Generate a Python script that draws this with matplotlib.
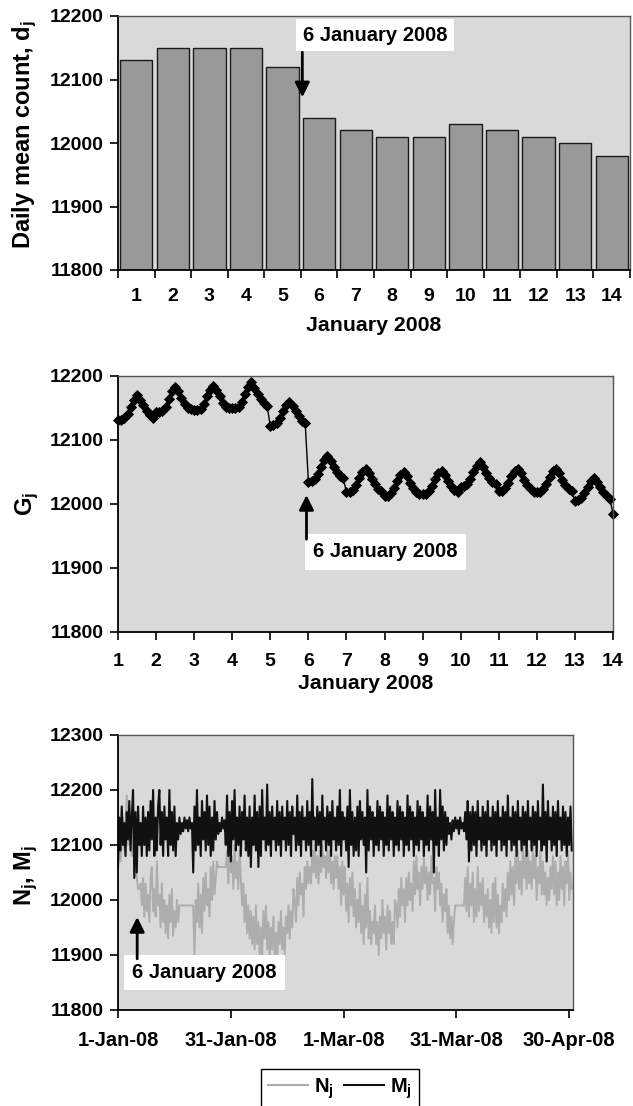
import numpy as np
import pandas as pd
import matplotlib
matplotlib.use('Agg')
import matplotlib.pyplot as plt
import matplotlib.dates as mdates
from matplotlib.lines import Line2D

plt.rcParams['font.family'] = ['Liberation Sans', 'DejaVu Sans']
plt.rcParams['font.weight'] = 'bold'
plt.rcParams['axes.labelweight'] = 'bold'
plt.rcParams['mathtext.fontset'] = 'custom'
plt.rcParams['mathtext.rm'] = 'Liberation Sans:bold'
plt.rcParams['mathtext.it'] = 'Liberation Sans:bold'
plt.rcParams['mathtext.bf'] = 'Liberation Sans:bold'

# ---------------- data ----------------
days = list(range(1, 15))
daily_mean = [12130, 12150, 12150, 12150, 12120, 12040, 12020,
              12010, 12010, 12030, 12020, 12010, 12000, 11980]

g_hours = [0, 2, 4, 6, 8, 10, 12, 14, 16, 18, 20, 22]
g_by_day = [
    [12132, 12132, 12134, 12140, 12152, 12163, 12170, 12163, 12155, 12146, 12139, 12135],
    [12143, 12144, 12146, 12152, 12164, 12176, 12183, 12176, 12166, 12156, 12150, 12148],
    [12147, 12147, 12149, 12156, 12168, 12178, 12185, 12178, 12168, 12158, 12152, 12150],
    [12150, 12150, 12152, 12160, 12172, 12183, 12190, 12182, 12172, 12164, 12158, 12153],
    [12122, 12123, 12127, 12135, 12146, 12155, 12160, 12153, 12145, 12137, 12130, 12126],
    [12035, 12036, 12039, 12047, 12058, 12068, 12075, 12067, 12058, 12050, 12043, 12040],
    [12018, 12019, 12022, 12030, 12041, 12050, 12055, 12048, 12039, 12031, 12024, 12020],
    [12012, 12013, 12017, 12025, 12036, 12045, 12050, 12043, 12033, 12025, 12019, 12015],
    [12015, 12016, 12020, 12028, 12039, 12048, 12052, 12045, 12036, 12028, 12022, 12018],
    [12027, 12028, 12031, 12039, 12050, 12060, 12065, 12058, 12048, 12040, 12034, 12031],
    [12020, 12021, 12025, 12033, 12044, 12051, 12055, 12048, 12038, 12030, 12024, 12019],
    [12018, 12019, 12023, 12031, 12042, 12051, 12055, 12048, 12038, 12030, 12024, 12020],
    [12005, 12006, 12010, 12017, 12027, 12036, 12040, 12034, 12026, 12018, 12012, 12008],
]
g_last = 11985

# 8-hourly samples, 1 Jan 2008 onwards (3 per day)
m_values = [
    12060, 12150, 12090, 12170, 12100, 12140, 12080, 12160, 12110, 12180, 12090, 12150, 12200, 12040, 12160,
    12050, 12170, 12100, 12140, 12080, 12170, 12100, 12150, 12080, 12160, 12090, 12180, 12110, 12200, 12080,
    12150, 12090, 12170, 12200, 12100, 12160, 12080, 12170, 12110, 12150, 12080, 12200, 12100, 12160, 12090,
    12170, 12080, 12140, 12110, 12150, 12120, 12140, 12125, 12150, 12130, 12145, 12125, 12150, 12130, 12140,
    12050, 12170, 12090, 12200, 12100, 12150, 12080, 12180, 12110, 12160, 12090, 12190, 12100, 12170, 12080,
    12150, 12090, 12180, 12110, 12160, 12120, 12140, 12125, 12150, 12130, 12145, 12100, 12190, 12080, 12160,
    12070, 12180, 12110, 12200, 12090, 12150, 12100, 12170, 12080, 12160, 12110, 12190, 12090, 12150, 12080,
    12170, 12060, 12150, 12100, 12190, 12090, 12160, 12060, 12170, 12080, 12200, 12110, 12150, 12090, 12210,
    12100, 12160, 12080, 12170, 12110, 12150, 12090, 12180, 12100, 12160, 12080, 12170, 12110, 12150, 12090,
    12180, 12100, 12160, 12080, 12170, 12120, 12150, 12090, 12190, 12100, 12160, 12080, 12170, 12110, 12150,
    12090, 12180, 12100, 12160, 12080, 12220, 12110, 12150, 12090, 12170, 12100, 12160, 12080, 12190, 12110,
    12150, 12090, 12170, 12100, 12160, 12080, 12180, 12110, 12150, 12090, 12170, 12100, 12200, 12080, 12160,
    12110, 12150, 12090, 12170, 12060, 12200, 12100, 12160, 12080, 12150, 12090, 12170, 12080, 12180, 12110,
    12160, 12100, 12150, 12050, 12200, 12090, 12170, 12110, 12160, 12080, 12150, 12100, 12180, 12090, 12170,
    12110, 12160, 12080, 12150, 12100, 12190, 12090, 12170, 12110, 12160, 12080, 12150, 12100, 12180, 12090,
    12170, 12110, 12160, 12080, 12150, 12100, 12190, 12090, 12170, 12110, 12160, 12080, 12150, 12100, 12180,
    12090, 12170, 12110, 12160, 12080, 12150, 12100, 12190, 12090, 12170, 12110, 12160, 12050, 12200, 12100,
    12150, 12080, 12200, 12110, 12170, 12090, 12160, 12100, 12150, 12120, 12140, 12110, 12145, 12125, 12150,
    12130, 12145, 12120, 12150, 12130, 12140, 12125, 12160, 12110, 12180, 12070, 12160, 12090, 12170, 12100,
    12160, 12080, 12180, 12110, 12150, 12090, 12170, 12100, 12160, 12080, 12180, 12110, 12150, 12090, 12170,
    12100, 12160, 12080, 12180, 12110, 12150, 12090, 12170, 12100, 12160, 12080, 12190, 12110, 12150, 12090,
    12170, 12100, 12160, 12080, 12180, 12110, 12150, 12090, 12170, 12100, 12160, 12080, 12180, 12110, 12150,
    12090, 12170, 12100, 12160, 12080, 12180, 12110, 12150, 12090, 12210, 12100, 12160, 12070, 12180, 12110,
    12150, 12090, 12170, 12100, 12160, 12080, 12180, 12110, 12150, 12090, 12170, 12100, 12160, 12080, 12150,
    12100, 12170, 12090,
]
n_values = [
    12080, 12120, 12070, 12110, 12150, 12090, 12130, 12190, 12100, 12120, 12160, 12080, 12090, 12140, 12060,
    12040, 12020, 12020, 12030, 11990, 12040, 11970, 12030, 11980, 12010, 11960, 12040, 12060, 11980, 12020,
    11970, 12070, 11990, 12010, 11950, 12030, 11960, 12000, 11940, 11990, 11930, 12010, 11960, 12020, 11935,
    11980, 11950, 12000, 11960, 11990, 11990, 11990, 11990, 11990, 11990, 11990, 11990, 11990, 11990, 11990,
    11990, 11900, 12000, 11960, 12030, 11950, 12010, 11940, 12040, 11980, 12050, 11990, 12020, 11970, 12060,
    12000, 12070, 12010, 12040, 12070, 12060, 12060, 12060, 12060, 12060, 12060, 12060, 12090, 12030, 12100,
    12050, 12080, 12020, 12100, 12040, 12070, 12020, 12090, 12040, 11990, 12030, 11960, 12010, 11940, 11990,
    11930, 11980, 11920, 11970, 11910, 11990, 11920, 11960, 11900, 11950, 11900, 11980, 11930, 11990, 11910,
    11960, 11890, 11950, 11910, 11970, 11900, 11940, 11890, 11960, 11920, 11980, 11910, 11950, 11900, 11970,
    11940, 11990, 11930, 11980, 11950, 12020, 12000, 11960, 12040, 11990, 12050, 12010, 12030, 11970, 12060,
    12020, 12070, 12030, 12060, 12030, 12090, 12050, 12100, 12040, 12080, 12030, 12090, 12050, 12100, 12060,
    12080, 12040, 12090, 12050, 12090, 12030, 12070, 12020, 12080, 12040, 12080, 12020, 12060, 11990, 12070,
    12010, 12060, 11980, 12030, 11960, 12040, 11990, 12050, 11970, 12020, 11950, 12000, 11960, 12030, 11940,
    11990, 11920, 12010, 11950, 12040, 11930, 11980, 11920, 11960, 11940, 11990, 11920, 11960, 11900, 11970,
    11930, 12000, 11940, 11970, 11910, 11990, 11940, 11980, 11920, 11960, 11920, 12000, 11990, 11950, 12020,
    11970, 12040, 11990, 12020, 11960, 12040, 11990, 12050, 12000, 12030, 11980, 12070, 12010, 12080, 12020,
    12050, 11990, 12060, 12020, 12080, 12030, 12060, 12000, 12050, 12010, 12080, 12030, 12040, 11980, 12060,
    12020, 12050, 11990, 12030, 11960, 12010, 11980, 12020, 11940, 11990, 11930, 11970, 11920, 11960, 11990,
    11990, 11990, 11990, 11990, 11990, 11990, 11990, 12040, 11980, 12060, 11970, 12030, 11990, 12050, 11960,
    12020, 11970, 12060, 11980, 12030, 11990, 12040, 11960, 12010, 11970, 12020, 11950, 12000, 11940, 12030,
    11960, 12040, 11950, 12010, 11940, 11990, 11960, 12030, 11980, 12020, 11970, 12050, 12000, 12070, 12010,
    12060, 11990, 12080, 12030, 12090, 12020, 12070, 12010, 12100, 12040, 12080, 12020, 12090, 12030, 12070,
    12020, 12100, 12040, 12080, 12000, 12060, 12030, 12090, 12010, 12070, 12010, 12050, 11990, 12040, 12000,
    12060, 12020, 12080, 12010, 12070, 11990, 12050, 12000, 12080, 12020, 12060, 11990, 12070, 12030, 12090,
    12000, 12050, 12020,
]
date_ticks = ['2008-01-01', '2008-01-31', '2008-03-01', '2008-03-31', '2008-04-30']
date_tick_labels = ['1-Jan-08', '31-Jan-08', '1-Mar-08', '31-Mar-08', '30-Apr-08']

# ---------------- style ----------------
BG = '#d9d9d9'
TICK_FS = 14
LAB_FS = 15.3
YLAB_FS = 17
ANN_FS = 14.5

W, H = 633, 1106
fig = plt.figure(figsize=(W / 100, H / 100), dpi=100)


def px_axes(l, t, r, b):
    return fig.add_axes([l / W, 1 - b / H, (r - l) / W, (b - t) / H])


def style(ax):
    ax.set_facecolor(BG)
    for s in ['left', 'bottom']:
        ax.spines[s].set_color('black')
        ax.spines[s].set_linewidth(1.3)
    for s in ['top', 'right']:
        ax.spines[s].set_color('#555555')
        ax.spines[s].set_linewidth(1.0)
    ax.tick_params(axis='both', which='both', direction='out', width=1.2,
                   labelsize=TICK_FS, color='black')
    ax.tick_params(axis='y', length=6, pad=4)
    ax.tick_params(axis='x', length=6, pad=9)


# ---------------- top panel ----------------
ax1 = px_axes(118, 16, 630, 270)
style(ax1)
ax1.bar(days, daily_mean, width=0.88, color='#999999', edgecolor='#1a1a1a',
        linewidth=1.0, bottom=0)
ax1.set_xlim(0.5, 14.5)
ax1.set_ylim(11800, 12200)
ax1.set_yticks(np.arange(11800, 12201, 100))
ax1.set_xticks(days)
ax1.set_xticks(np.arange(0.5, 15, 1), minor=True)
ax1.tick_params(axis='x', which='major', length=0, pad=13)
ax1.tick_params(axis='x', which='minor', length=6, width=1.2)
ax1.set_xlabel('January 2008', fontsize=LAB_FS, labelpad=8)
ax1.set_ylabel('Daily mean count, d$_j$', fontsize=YLAB_FS)
ax1.yaxis.set_label_coords(-0.155, 0.535)
ax1.text(5.55, 12170, '6 January 2008', fontsize=ANN_FS, fontweight='bold',
         va='center', ha='left',
         bbox=dict(facecolor='white', edgecolor='none', pad=5))
ax1.annotate('', xy=(5.54, 12072), xytext=(5.54, 12143),
             arrowprops=dict(arrowstyle='-|>', color='black', lw=2,
                             mutation_scale=22, shrinkA=0, shrinkB=0))

# ---------------- middle panel ----------------
ax2 = px_axes(118, 376, 613, 632)
style(ax2)
g_x, g_y = [], []
for d, vals in zip(days[:-1], g_by_day):
    for h, v in zip(g_hours, vals):
        g_x.append(d + h / 24)
        g_y.append(v)
g_x.append(days[-1])
g_y.append(g_last)
ax2.plot(g_x, g_y, color='black', lw=1.0, marker='D', markersize=4.6,
         markeredgewidth=0.6, clip_on=False)
ax2.set_xlim(1, 14)
ax2.set_ylim(11800, 12200)
ax2.set_yticks(np.arange(11800, 12201, 100))
ax2.set_xticks(days)
ax2.set_xlabel('January 2008', fontsize=LAB_FS, labelpad=3)
ax2.set_ylabel('G$_j$', fontsize=YLAB_FS)
ax2.yaxis.set_label_coords(-0.155, 0.5)
ax2.text(6.12, 11925, '6 January 2008', fontsize=ANN_FS, fontweight='bold',
         va='center', ha='left',
         bbox=dict(facecolor='white', edgecolor='none', pad=6))
ax2.annotate('', xy=(5.95, 12014), xytext=(5.95, 11945),
             arrowprops=dict(arrowstyle='-|>', color='black', lw=2,
                             mutation_scale=22, shrinkA=0, shrinkB=0))

# ---------------- bottom panel ----------------
ax3 = px_axes(118, 735, 573, 1010)
style(ax3)
t = pd.date_range('2008-01-01', periods=len(n_values), freq='8h')
ax3.plot(t, n_values, color='#adadad', lw=1.4, label='N$_j$')
ax3.plot(t, m_values, color='#111111', lw=1.5, label='M$_j$')
t0 = mdates.date2num(pd.Timestamp('2008-01-01'))
ax3.set_xlim(t0, mdates.date2num(pd.Timestamp('2008-05-01')))
ax3.set_ylim(11800, 12300)
ax3.set_yticks(np.arange(11800, 12301, 100))
ax3.set_xticks([mdates.date2num(pd.Timestamp(d)) for d in date_ticks])
ax3.set_xticklabels(date_tick_labels)
ax3.tick_params(axis='x', labelsize=14.5)
ax3.set_ylabel('N$_j$, M$_j$', fontsize=YLAB_FS)
ax3.yaxis.set_label_coords(-0.172, 0.49)
ax3.text(t0 + 3.7, 11868, '6 January 2008', fontsize=ANN_FS, fontweight='bold',
         va='center', ha='left',
         bbox=dict(facecolor='white', edgecolor='none', pad=6))
ax3.annotate('', xy=(t0 + 5.1, 11969), xytext=(t0 + 5.1, 11893),
             arrowprops=dict(arrowstyle='-|>', color='black', lw=2,
                             mutation_scale=22, shrinkA=0, shrinkB=0))

handles = [Line2D([], [], color='#adadad', lw=1.5),
           Line2D([], [], color='#111111', lw=1.5)]
leg = fig.legend(handles, ['N$_j$', 'M$_j$'], loc='upper left',
                 bbox_to_anchor=(261 / W, 1 - 1069 / H), ncol=2,
                 frameon=True, fancybox=False, edgecolor='black',
                 framealpha=1, fontsize=14.5, borderpad=0.35, borderaxespad=0,
                 handlelength=2.0, handletextpad=0.3, columnspacing=0.5)
leg.get_frame().set_linewidth(1.0)

fig.savefig('out.png', dpi=100, facecolor='white')
